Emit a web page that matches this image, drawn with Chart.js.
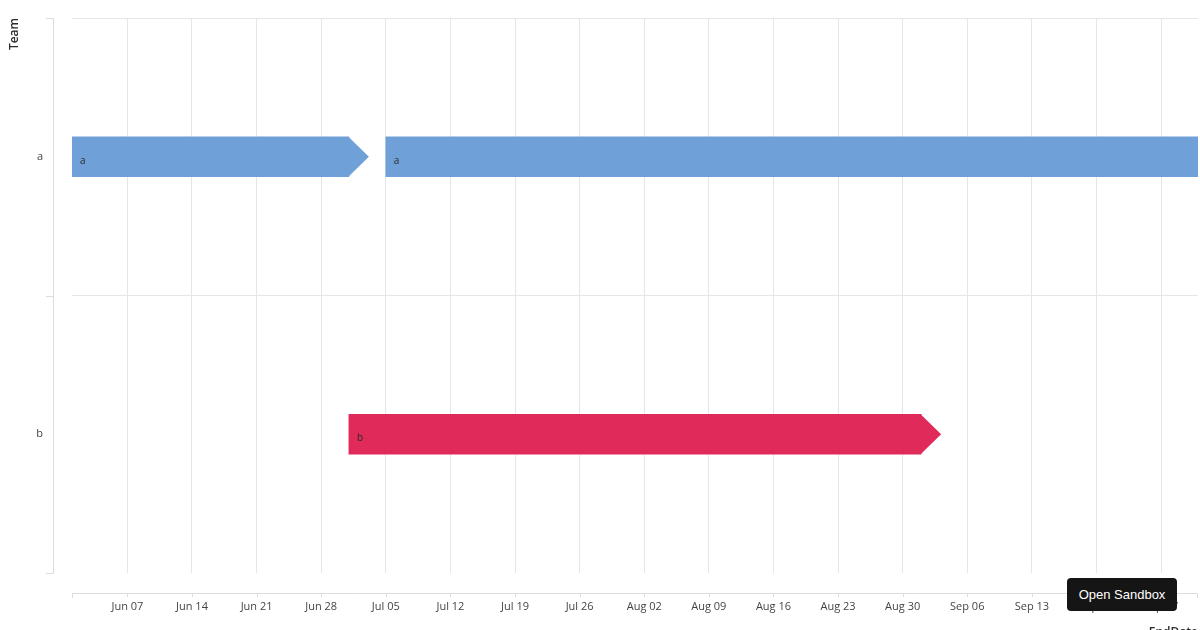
<!DOCTYPE html>
<html>
<head>
<meta charset="utf-8">
<script src="https://cdn.jsdelivr.net/npm/chart.js@4.4.1/dist/chart.umd.min.js"></script>
<style>
    html, body { margin: 0; padding: 0; background: #fff; overflow: hidden; }
    body { width: 1200px; height: 630px; position: relative; }
    #chart { display: block; }
    .sandbox-btn {
        position: absolute;
        left: 1067px;
        top: 578px;
        width: 110px;
        height: 33px;
        background: #151515;
        color: #fff;
        border-radius: 4px;
        font: 13px "Liberation Sans", Arial, sans-serif;
        line-height: 33px;
        text-align: center;
    }
</style>
</head>
<body>
<canvas id="chart" width="1200" height="645"></canvas>
<div class="sandbox-btn">Open Sandbox</div>
<script>
// categories and tasks
const teams = ['a', 'b'];
const taskTeam = ['a', 'a', 'b'];
const taskStart = ['2021-06-01', '2021-07-05', '2021-07-01'];
const taskEnd = ['2021-07-01', '2021-10-01', '2021-09-01'];
const taskArrow = [true, false, true];
const taskColor = ['#6fa1d8', '#6fa1d8', '#e02a5a'];

// x axis range and ticks
const axisStart = '2021-06-01';
const axisEnd = '2021-10-01';
const tickDates = ['2021-06-07', '2021-06-14', '2021-06-21', '2021-06-28', '2021-07-05',
    '2021-07-12', '2021-07-19', '2021-07-26', '2021-08-02', '2021-08-09', '2021-08-16',
    '2021-08-23', '2021-08-30', '2021-09-06', '2021-09-13', '2021-09-20', '2021-09-27'];
const monthNames = ['Jan', 'Feb', 'Mar', 'Apr', 'May', 'Jun', 'Jul', 'Aug', 'Sep', 'Oct', 'Nov', 'Dec'];

const gridColor = '#e6e6ea';
const axisColor = '#dcdce2';
const textColor = '#444';

const toDay = iso => Date.parse(iso + 'T00:00:00Z') / 86400000;

const formatDay = day => {
    const d = new Date(day * 86400000);
    return monthNames[d.getUTCMonth()] + ' ' + String(d.getUTCDate()).padStart(2, '0');
};

// draws the axis lines set apart from the plot, like the original
const offsetAxes = {
    id: 'offsetAxes',
    beforeDatasetsDraw(chart) {
        const {ctx, chartArea, scales} = chart;
        const yLineX = chartArea.left - 19;
        const xLineY = chartArea.bottom + 20;
        ctx.save();
        ctx.strokeStyle = axisColor;
        ctx.lineWidth = 1;
        ctx.beginPath();
        ctx.moveTo(yLineX + 0.5, chartArea.top);
        ctx.lineTo(yLineX + 0.5, chartArea.bottom);
        for (let i = 0; i <= teams.length; i++) {
            const y = Math.round(scales.y.getPixelForValue(i - 0.5)) + 0.5;
            ctx.moveTo(yLineX - 7, y);
            ctx.lineTo(yLineX + 0.5, y);
        }
        ctx.moveTo(chartArea.left, xLineY + 0.5);
        ctx.lineTo(chartArea.right, xLineY + 0.5);
        ctx.moveTo(chartArea.left + 0.5, xLineY);
        ctx.lineTo(chartArea.left + 0.5, xLineY + 5);
        ctx.moveTo(chartArea.right - 0.5, xLineY);
        ctx.lineTo(chartArea.right - 0.5, xLineY + 5);
        scales.x.ticks.forEach(t => {
            const x = Math.round(scales.x.getPixelForValue(t.value)) + 0.5;
            ctx.moveTo(x, xLineY);
            ctx.lineTo(x, xLineY + 4);
        });
        ctx.stroke();
        ctx.restore();
    }
};

// arrow heads and the team label inside each bar
const barDecor = {
    id: 'barDecor',
    afterDatasetsDraw(chart) {
        const {ctx} = chart;
        const meta = chart.getDatasetMeta(0);
        ctx.save();
        meta.data.forEach((bar, i) => {
            const half = bar.height / 2;
            if (taskArrow[i]) {
                ctx.fillStyle = taskColor[i];
                ctx.beginPath();
                ctx.moveTo(bar.x - 0.5, bar.y - half);
                ctx.lineTo(bar.x + half, bar.y);
                ctx.lineTo(bar.x - 0.5, bar.y + half);
                ctx.closePath();
                ctx.fill();
            }
            ctx.fillStyle = '#2a2a2a';
            ctx.font = '10px "Open Sans", sans-serif';
            ctx.textAlign = 'left';
            ctx.textBaseline = 'middle';
            ctx.fillText(taskTeam[i], bar.base + 8, bar.y + 4);
        });
        ctx.restore();
    }
};

class GanttChart {
    constructor(canvasId) {
        this.canvas = document.getElementById(canvasId);
        this.render();
    }

    buildData() {
        return {
            datasets: [{
                data: taskTeam.map((team, i) => ({
                    y: team,
                    x: [toDay(taskStart[i]), toDay(taskEnd[i])]
                })),
                backgroundColor: taskColor,
                borderWidth: 0,
                borderSkipped: false,
                barThickness: 40
            }]
        };
    }

    render() {
        const canvasHeight = this.canvas.height;
        new Chart(this.canvas.getContext('2d'), {
            type: 'bar',
            data: this.buildData(),
            options: {
                indexAxis: 'y',
                responsive: false,
                animation: false,
                layout: { padding: { top: 18, right: 2, left: 0, bottom: 0 } },
                plugins: {
                    legend: { display: false },
                    tooltip: { enabled: false }
                },
                scales: {
                    x: {
                        type: 'linear',
                        position: 'bottom',
                        min: toDay(axisStart),
                        max: toDay(axisEnd),
                        afterBuildTicks: scale => {
                            scale.ticks = tickDates.map(d => ({ value: toDay(d) }));
                        },
                        afterFit: scale => {
                            scale.height = canvasHeight - 573;
                            scale.paddingLeft = 0;
                            scale.paddingRight = 0;
                        },
                        grid: { color: gridColor, drawTicks: false },
                        border: { display: false },
                        ticks: {
                            color: textColor,
                            padding: 27,
                            maxRotation: 0,
                            autoSkip: false,
                            font: { family: '"Open Sans", sans-serif', size: 11 },
                            callback: value => formatDay(value)
                        },
                        title: {
                            display: true,
                            text: 'EndDate',
                            align: 'end',
                            color: '#2a2a2a',
                            padding: { top: 0, bottom: 5 },
                            font: { family: '"Open Sans", sans-serif', size: 12, weight: '600' }
                        }
                    },
                    y: {
                        type: 'category',
                        labels: teams,
                        offset: true,
                        afterFit: scale => {
                            scale.width = 72;
                            scale.paddingTop = 0;
                            scale.paddingBottom = 0;
                        },
                        grid: {
                            offset: true,
                            drawTicks: false,
                            color: c => c.type === 'tick' ? gridColor : 'rgba(0,0,0,0)'
                        },
                        border: { display: false },
                        ticks: {
                            color: textColor,
                            padding: 29,
                            font: { family: '"Open Sans", sans-serif', size: 11 }
                        },
                        title: {
                            display: true,
                            text: 'Team',
                            align: 'end',
                            color: '#2a2a2a',
                            padding: { top: 7, bottom: 0 },
                            font: { family: '"Open Sans", sans-serif', size: 12, weight: '600' }
                        }
                    }
                }
            },
            plugins: [offsetAxes, barDecor]
        });
    }
}

document.addEventListener('DOMContentLoaded', () => new GanttChart('chart'));
</script>
</body>
</html>
